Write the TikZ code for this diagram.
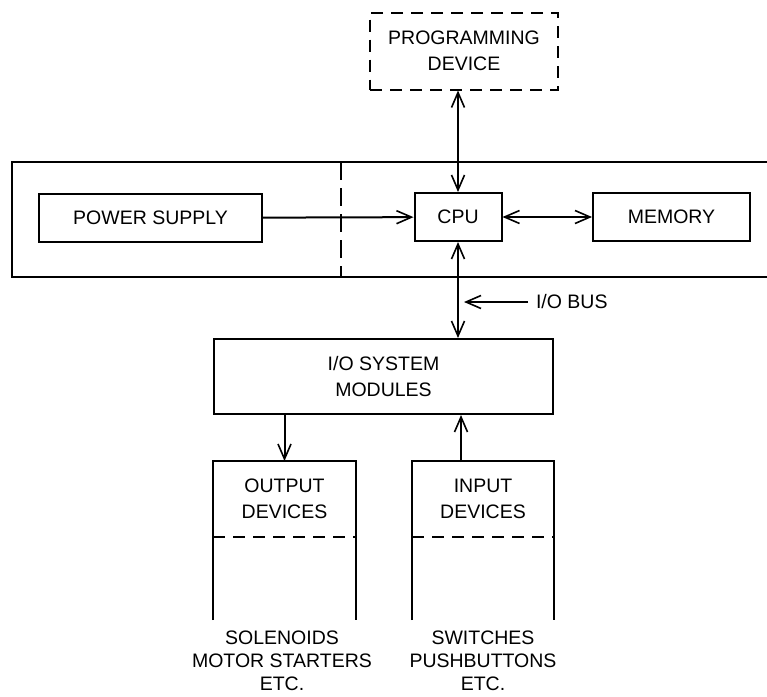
\documentclass[tikz,border=0pt]{standalone}
\usepackage{fontspec}
\setmainfont{Liberation Sans}
\usetikzlibrary{arrows.meta,positioning}

\begin{document}
\begin{tikzpicture}[x=1pt, y=1pt, line width=2pt,
  every node/.style={align=center, inner sep=0pt, font=\fontsize{19.5}{26}\selectfont},
  block/.style={draw, rectangle, minimum height=48pt},
  dashline/.style={dash pattern=on 12pt off 8pt},
  tip/.style={-{Straight Barb[length=15pt,width=13pt,line width=1.6pt]}},
  twotip/.style={{Straight Barb[length=15pt,width=13pt,line width=1.6pt]}-{Straight Barb[length=15pt,width=13pt,line width=1.6pt]}}]
  \useasboundingbox (0,0) rectangle (767,-696);

  % processor frame, open on the right
  \draw (767,-162) -- (12,-162) -- (12,-277) -- (767,-277);
  \draw[dash pattern=on 18pt off 8pt] (341,-162) -- (341,-277);

  \node [block, dashline, minimum width=188pt, minimum height=77pt] (prog) at (464,-51) {PROGRAMMING\\DEVICE};
  \node [block, minimum width=223pt] (power) at (150.5,-218) {POWER SUPPLY};
  \node [block, minimum width=87pt] (cpu) at (458,-217) {CPU};
  \node [block, minimum width=157pt] (memory) at (671.5,-217) {MEMORY};
  \node [block, minimum width=339pt, minimum height=75pt] (io) at (383.5,-376.5) {I/O SYSTEM\\MODULES};

  \draw[twotip] (prog.south -| cpu) -- (cpu.north);
  \draw[tip] (power) -- (cpu);
  \draw[twotip] (cpu) -- (memory);
  \draw[twotip] (cpu.south) -- (cpu.south |- io.north);

  \node [anchor=west] (bus) at (535,-302) {I/O BUS};
  \coordinate (busline) at (464,-300);
  \draw[tip] ([xshift=-7pt]bus.west) -- (busline |- bus.west);

  % field devices
  \node [minimum width=141pt, minimum height=74pt] (output) at (284.5,-499) {OUTPUT\\DEVICES};
  \node [minimum width=140pt, minimum height=74pt] (input) at (483,-499) {INPUT\\DEVICES};
  \coordinate (base) at (0,-620);
  \foreach \dev in {output, input} {
    \draw (\dev.west |- base) -- (\dev.north west) -- (\dev.north east) -- (\dev.east |- base);
    \draw[dashline] (\dev.south west) -- (\dev.south east);
  }
  \draw[tip] (io.south -| output.north) -- (output.north);
  \coordinate (inarrow) at (461,-462);
  \draw[tip] (inarrow) -- (inarrow |- io.south);

  \node [font=\fontsize{19.5}{23}\selectfont] (solenoids) at (282,-661) {SOLENOIDS\\MOTOR STARTERS\\ETC.};
  \node [font=\fontsize{19.5}{23}\selectfont] (switches) at (483,-661) {SWITCHES\\PUSHBUTTONS\\ETC.};
\end{tikzpicture}
\end{document}
